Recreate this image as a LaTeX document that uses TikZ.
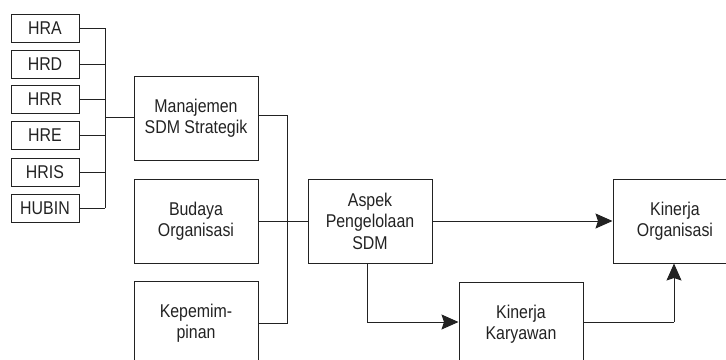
\documentclass[tikz,border=0pt]{standalone}
\usepackage{fontspec}
\setmainfont[FakeStretch=0.86]{Liberation Sans}
\usetikzlibrary{arrows.meta}
\definecolor{ln}{HTML}{222222}
\tikzset{
  sbox/.style={draw=ln, line width=1pt, minimum width=68pt, minimum height=28pt, inner sep=0pt, text=ln, font=\fontsize{18.5}{21}\selectfont},
  bbox/.style={draw=ln, line width=1pt, minimum width=124pt, minimum height=84pt, inner sep=0pt, align=center, text=ln, font=\fontsize{18.5}{21.5}\selectfont},
  conn/.style={draw=ln, line width=1pt},
  arr/.style={conn, -{Stealth[length=17pt, width=15pt, inset=2.5pt]}}
}
\begin{document}
\begin{tikzpicture}[x=1pt, y=-1pt]
\useasboundingbox (0,0) rectangle (726,359);
\clip (0,0) rectangle (726,359);
\node[sbox] (hra) at (45,28) {HRA};
\node[sbox] (hrd) at (45,64) {HRD};
\node[sbox] (hrr) at (45,99.5) {HRR};
\node[sbox] (hre) at (45,135.5) {HRE};
\node[sbox] (hris) at (45,172) {HRIS};
\node[sbox] (hubin) at (45,208) {HUBIN};
\node[bbox] (man) at (196,118) {Manajemen\\SDM Strategik};
\node[bbox] (bud) at (196,221) {Budaya\\Organisasi};
\node[bbox] (kep) at (196,323) {Kepemim-\\pinan};
\node[bbox] (asp) at (370,221) {Aspek\\Pengelolaan\\SDM};
\node[bbox] (ko) at (675,221) {Kinerja\\Organisasi};
\node[bbox] (kk) at (521,324) {Kinerja\\Karyawan};
\coordinate (busL) at (105,117);
\foreach \n in {hra,hrd,hrr,hre,hris,hubin}{
  \draw[conn] (\n.east) -- (\n.east -| busL);
}
\draw[conn] (hra.east -| busL) -- (hubin.east -| busL);
\draw[conn] (busL) -- (man.west |- busL);
\coordinate (manr) at (287,115);
\draw[conn] (man.east |- manr) -- (manr) |- (kep.east);
\draw[conn] (bud.east) -- (asp.west);
\draw[arr] (asp.east) -- (ko.west);
\coordinate (aspd) at (367,322);
\draw[conn] (asp.south -| aspd) -- (aspd);
\draw[arr] (aspd) -- (kk.west |- aspd);
\coordinate (kkr) at (674,322);
\draw[conn] (kk.east |- kkr) -- (kkr);
\draw[arr] (kkr) -- (ko.south -| kkr);
\end{tikzpicture}
\end{document}
